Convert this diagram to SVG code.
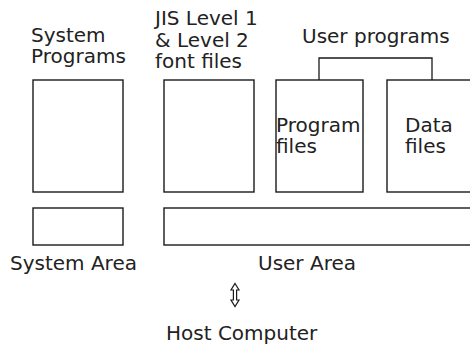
<svg xmlns="http://www.w3.org/2000/svg" width="470" height="345" viewBox="0 0 470 345">
<style>
.box{fill:none;stroke:#1a1a1a;stroke-width:1.4}
.ln{fill:none;stroke:#1a1a1a;stroke-width:1.3}
.arr{fill:#fff;stroke:#1a1a1a;stroke-width:1.2;stroke-linejoin:miter}
text{font-family:"DejaVu Sans",sans-serif;font-size:20px;fill:#222}
</style>
<rect width="470" height="345" fill="#fff"/>
<g id="system-programs">
<rect class="box" x="33" y="80" width="90" height="112"/>
<text x="31" y="42">System<tspan x="31" y="63">Programs</tspan></text>
</g>
<g id="jis-font-files">
<rect class="box" x="164" y="80" width="90" height="112"/>
<text x="155" y="25">JIS Level 1<tspan x="155" y="47">&amp; Level 2</tspan><tspan x="155" y="68">font files</tspan></text>
</g>
<g id="program-files">
<rect class="box" x="276" y="80" width="87" height="112"/>
<text x="276" y="132">Program<tspan x="276" y="153">files</tspan></text>
</g>
<g id="data-files">
<rect class="box" x="387" y="80" width="100" height="112"/>
<text x="405" y="132">Data<tspan x="405" y="153">files</tspan></text>
</g>
<g id="user-programs">
<text x="302" y="43">User programs</text>
</g>
<g id="system-area">
<rect class="box" x="33" y="208" width="90" height="37"/>
<text x="10" y="270">System Area</text>
</g>
<g id="user-area">
<rect class="box" x="164" y="208" width="320" height="37"/>
<text x="258" y="270">User Area</text>
</g>
<g id="host-computer">
<text x="166" y="340">Host Computer</text>
</g>
<g id="connectors">
<polyline class="ln" points="319,80 319,58 432,58 432,80"/>
<polygon class="arr" points="235,283.5 239,290 236.6,290 236.6,300 239,300 235,306.5 231,300 233.4,300 233.4,290 231,290"/>
</g>
</svg>
